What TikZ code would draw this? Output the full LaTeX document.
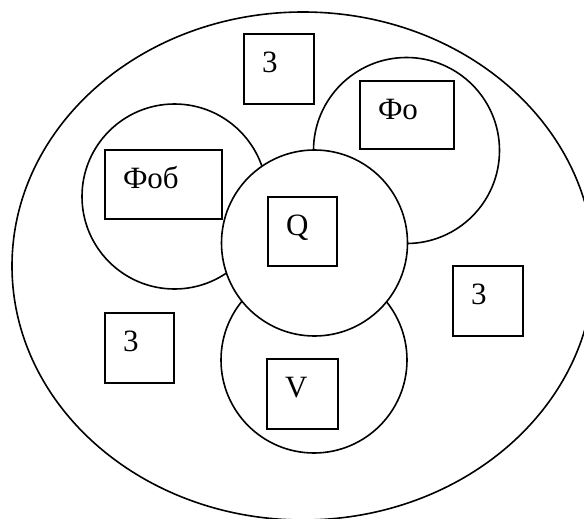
\documentclass[tikz,border=0pt]{standalone}
\usepackage{fontspec}
\setmainfont{Liberation Serif}
\begin{document}
\begin{tikzpicture}[x=1pt, y=-1pt, line width=1.6pt,
    box/.style={draw, rectangle, inner sep=0pt},
    tag/.style={anchor=base west, inner sep=0pt, font=\fontsize{31}{36}\selectfont},
    ring/.style={draw, fill=white}]
    \useasboundingbox (0,0) rectangle (584,519);
    \clip (0,0) rectangle (584,519);

    \coordinate (E) at (303,266);
    \coordinate (Fob) at (174.5,196.5);
    \coordinate (Fo) at (406.5,150.5);
    \coordinate (V) at (314,360);
    \coordinate (Q) at (314.5,243);

    % outer set and the four circles, Q on top
    \draw (E) ellipse [x radius=291, y radius=254];
    \draw[ring] (Fob) circle (92.5);
    \draw[ring] (Fo) circle (93);
    \draw[ring] (V) circle (93);
    \draw[ring] (Q) circle (93);

    % boxes
    \node[box, minimum width=70, minimum height=70] (z1) at (279,69) {};
    \node[box, minimum width=94, minimum height=68] (bfo) at (407,115) {};
    \node[box, minimum width=117, minimum height=69] (bfob) at (163.5,184.5) {};
    \node[box, minimum width=69, minimum height=69] (bq) at (302.5,231.5) {};
    \node[box, minimum width=71, minimum height=70] (bv) at (302.5,394) {};
    \node[box, minimum width=69, minimum height=70] (z2) at (139.5,348) {};
    \node[box, minimum width=70, minimum height=70] (z3) at (488,301) {};

    \foreach \b/\t in {z1/3, bfo/Фо, bfob/Фоб, bq/Q, bv/V, z2/3, z3/3}
    \node[tag] (\b-t) at ([shift={(18,39)}]\b.north west) {\t};
\end{tikzpicture}
\end{document}
